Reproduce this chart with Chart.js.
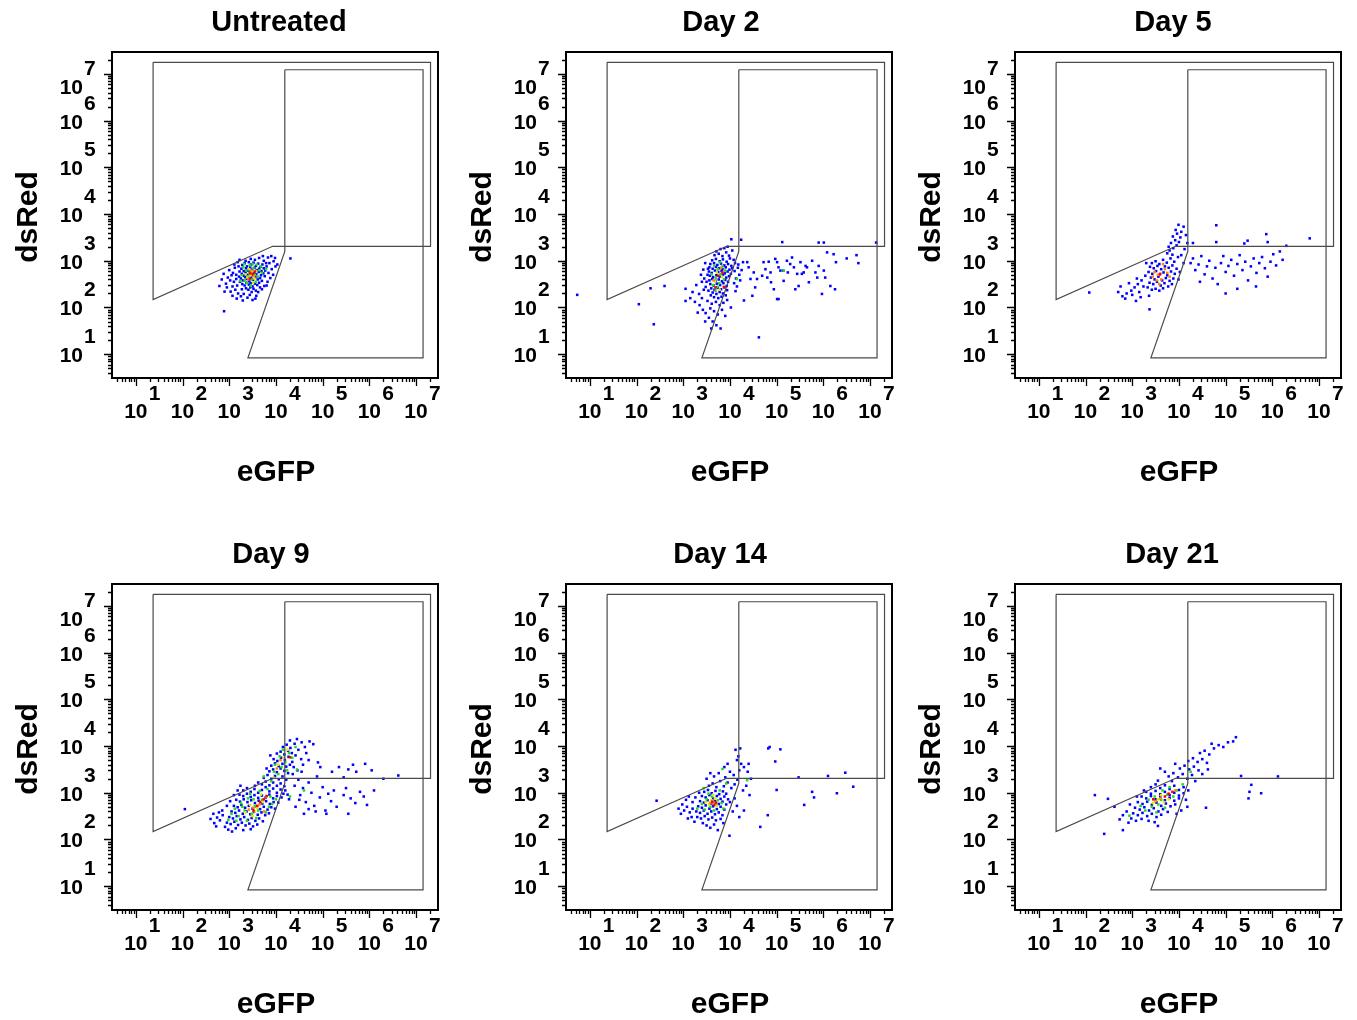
<!DOCTYPE html>
<html>
<head>
<meta charset="utf-8">
<title>eGFP / dsRed time course</title>
<script src="https://cdn.jsdelivr.net/npm/chart.js@4.4.1/dist/chart.umd.min.js"></script>
<style>
  html, body { margin: 0; padding: 0; background: #fff; overflow: hidden; }
  #grid { position: relative; width: 1357px; height: 1020px; }
  #grid canvas { position: absolute; }
</style>
</head>
<body>
<div id="grid"></div>
<script>
// events are stored as [log10 eGFP, log10 dsRed]
const panelTitles = ['Untreated', 'Day 2', 'Day 5', 'Day 9', 'Day 14', 'Day 21'];
const xTitle = 'eGFP';
const yTitle = 'dsRed';
const decadeExponents = [1, 2, 3, 4, 5, 6, 7];
const axisMinLog = 0.49;
const axisMaxLog = 7.47;

// gate outlines
const dsRedGate = [[1.37,7.25],[7.31,7.25],[7.31,3.31],[3.93,3.31],[1.37,2.17],[1.37,7.25]];
const egfpGate = [[4.19,7.09],[7.15,7.09],[7.15,0.92],[3.40,0.92],[4.19,3.20],[4.19,7.09]];

// ---- Untreated ----
const untreatedBlue = [
  [3.28,2.91],[3.33,2.95],[3.38,2.88],[3.42,2.97],[3.47,2.92],[3.52,2.96],[3.57,2.89],[3.62,2.94],[3.67,2.87],[3.71,2.92],
  [3.26,2.83],[3.31,2.78],[3.36,2.84],[3.40,2.79],[3.45,2.86],[3.49,2.81],[3.54,2.85],[3.59,2.80],[3.64,2.83],[3.69,2.78],[3.74,2.84],
  [3.27,2.72],[3.32,2.68],[3.35,2.75],[3.39,2.70],[3.44,2.77],[3.48,2.69],[3.53,2.74],[3.58,2.71],[3.63,2.76],[3.68,2.69],[3.73,2.73],
  [3.25,2.62],[3.30,2.58],[3.34,2.65],[3.38,2.61],[3.43,2.56],[3.47,2.63],[3.51,2.59],[3.56,2.65],[3.61,2.60],[3.66,2.63],[3.70,2.57],
  [3.28,2.50],[3.33,2.47],[3.37,2.53],[3.42,2.49],[3.46,2.52],[3.50,2.45],[3.55,2.51],[3.60,2.48],[3.64,2.53],
  [3.36,2.41],[3.41,2.38],[3.45,2.43],[3.52,2.40],[3.57,2.36],[3.48,2.33],
  [3.22,2.77],[3.21,2.66],[3.77,2.79],[3.76,2.67],[3.80,2.88],[3.79,2.95],[3.35,3.00],[3.55,3.02],[3.46,3.04],
  [3.12,2.85],[3.08,2.74],[3.15,2.61],[3.10,2.55],[3.05,2.69],[3.17,2.47],[3.13,2.38],[3.02,2.58],[2.97,2.64],[2.93,2.51],
  [2.88,2.72],[2.84,2.60],[2.95,2.43],[3.03,2.34],[3.19,2.30],[3.25,2.24],[3.31,2.29],[3.39,2.21],[3.44,2.27],[3.50,2.16],
  [3.58,2.25],[3.62,2.33],[3.29,2.15],[3.16,2.19],[3.07,2.45],[3.84,2.74],[3.88,2.63],[3.91,2.82],[3.86,2.95],[3.95,2.99],
  [3.98,3.06],[3.83,3.07],[3.72,3.10],[3.64,3.06],[3.90,3.10],[3.99,2.88],[3.82,2.55],[3.75,2.46],[3.70,2.39],[3.80,2.47],
  [3.18,2.97],[3.22,3.02],[3.11,2.92],[3.27,2.39],[3.66,2.43],[3.94,2.70],[4.03,2.92],[3.00,2.80],[2.90,2.34],[3.56,2.19],
  [3.23,2.55],[3.74,3.00],[3.15,2.70],[3.20,2.88],[2.89,1.92],[4.31,3.05],[2.79,2.46],[3.07,2.25]
];
const untreatedGreen = [
  [3.30,2.86],[3.36,2.79],[3.44,2.90],[3.52,2.84],[3.59,2.92],[3.65,2.80],[3.41,2.67],[3.48,2.60],[3.55,2.70],[3.33,2.58],
  [3.62,2.66],[3.38,2.52],[3.46,2.46],[3.57,2.55],[3.27,2.69],[3.70,2.74],[3.50,2.93],[3.43,2.74],[3.32,2.93],[3.68,2.88],
  [3.24,2.57],[3.79,2.82]
];
const untreatedYellow = [[3.42,2.82],[3.49,2.77],[3.54,2.62],[3.39,2.64],[3.58,2.78],[3.46,2.70],[3.35,2.71],[3.51,2.53]];
const untreatedOrange = [[3.47,2.79],[3.53,2.68],[3.41,2.60]];
const untreatedRed = [[3.45,2.73],[3.50,2.72],[3.44,2.62],[3.55,2.77]];

// ---- Day 2 ----
const day2Blue = [
  [3.62,3.01],[3.70,3.04],[3.78,2.99],[3.85,3.03],[3.93,2.98],[4.00,3.05],
  [3.58,2.93],[3.66,2.95],[3.73,2.91],[3.81,2.94],[3.88,2.90],[3.96,2.93],[4.03,2.89],
  [3.56,2.86],[3.63,2.83],[3.70,2.87],[3.77,2.84],[3.84,2.82],[3.91,2.86],[3.99,2.81],[4.05,2.84],
  [3.55,2.77],[3.61,2.74],[3.68,2.79],[3.75,2.76],[3.82,2.78],[3.89,2.73],[3.95,2.77],[4.02,2.72],
  [3.57,2.68],[3.64,2.65],[3.71,2.69],[3.78,2.66],[3.85,2.70],[3.92,2.64],[3.98,2.67],
  [3.56,2.58],[3.62,2.61],[3.69,2.57],[3.76,2.60],[3.83,2.56],[3.90,2.59],[3.96,2.55],
  [3.58,2.50],[3.65,2.47],[3.72,2.51],[3.79,2.48],[3.86,2.52],[3.93,2.46],
  [3.60,2.41],[3.67,2.38],[3.74,2.42],[3.81,2.39],[3.88,2.43],[3.94,2.37],
  [3.63,2.32],[3.71,2.29],[3.78,2.33],[3.85,2.30],[3.91,2.26],
  [3.52,2.70],[3.50,2.55],[3.53,2.83],[3.48,2.44],[3.54,2.36],[3.66,2.22],[3.75,2.20],[3.82,2.23],[3.59,2.26],
  [3.67,3.12],[3.76,3.15],[3.84,3.10],[3.92,3.18],[3.98,3.11],[4.05,3.22],[3.88,3.27],[3.95,3.30],[4.08,3.02],[4.11,2.95],
  [4.03,3.46],[4.24,3.45],[3.71,3.20],[3.80,3.25],
  [3.40,2.20],[3.52,2.14],[3.61,2.08],[3.70,2.12],[3.78,2.05],[3.86,2.10],[3.94,2.16],[3.58,1.98],[3.66,1.92],[3.74,1.85],
  [3.83,1.95],[3.48,1.88],[3.55,1.78],[3.63,1.70],[3.71,1.62],[3.90,1.82],[3.47,1.70],[3.80,1.55],[3.60,1.55],[3.42,1.95],
  [3.35,2.05],[4.02,2.00],[3.05,2.14],[3.31,1.89],
  [3.05,2.40],[3.20,2.33],[3.28,2.48],[3.34,2.29],[3.40,2.55],[3.44,2.38],[3.15,2.20],[3.25,2.12],[3.45,2.62],[3.38,2.70],
  [3.47,2.95],[3.43,2.81],
  [4.10,2.78],[4.13,2.62],[4.17,2.85],[4.20,2.70],[4.09,2.52],[4.15,2.45],[4.22,2.58],[4.25,2.80],[4.12,2.35],[4.18,2.92],
  [0.73,2.27],[2.05,2.07],[2.30,2.41],[2.60,2.46],[2.37,1.64],
  [4.28,2.97],[4.40,2.86],[4.44,2.61],[4.51,2.75],[4.54,2.43],[4.69,2.68],[4.72,2.97],[4.83,2.98],[4.87,2.75],[4.88,2.54],
  [4.94,2.39],[4.97,3.04],[5.01,2.18],[5.04,2.86],[5.08,2.79],[5.15,2.57],[5.14,2.79],[5.22,3.00],[5.24,2.75],[5.33,3.07],
  [5.37,2.86],[5.44,2.72],[5.47,2.46],[5.51,2.97],[5.58,2.75],[5.65,2.86],[5.69,2.54],[5.76,3.00],[5.83,2.75],[5.87,2.64],
  [5.90,2.89],[5.97,2.29],[6.01,2.79],[6.04,2.64],[6.08,3.18],[6.15,2.46],[6.22,3.14],[6.25,2.39],[6.27,2.97],[6.50,3.05],
  [6.71,3.12],[6.75,2.95],[5.90,3.39],[6.01,3.39],[5.12,3.40],[7.13,3.39],[5.04,2.18],[4.62,1.36],[4.30,2.15],[4.48,2.25],
  [4.76,2.82],[4.58,2.61],[5.29,2.93],[5.40,2.39],[5.54,2.72],[5.01,2.97],[4.80,2.64],[4.37,2.97],[5.62,2.89]
];
const day2Green = [
  [3.66,2.90],[3.74,2.82],[3.80,2.71],[3.70,2.63],[3.87,2.60],[3.77,2.52],[3.64,2.48],[3.84,2.88],[3.69,2.36],[3.90,2.79],
  [3.61,2.71],[3.79,2.97],[3.73,2.44],[5.15,2.79],[4.15,2.61]
];
const day2Yellow = [[3.72,2.75],[3.83,2.66],[3.68,2.56],[3.78,2.38]];
const day2Orange = [[3.81,2.85],[3.65,2.58]];
const day2Red = [[3.84,2.75],[3.69,2.43],[3.87,2.44],[3.75,2.68]];

// ---- Day 5 ----
const day5Blue = [
  [3.42,2.95],[3.50,2.99],[3.58,2.93],[3.66,3.02],[3.74,2.96],[3.82,3.05],[3.90,2.98],
  [3.38,2.87],[3.46,2.84],[3.54,2.89],[3.62,2.82],[3.70,2.88],[3.78,2.85],[3.86,2.90],[3.95,2.83],
  [3.35,2.76],[3.43,2.72],[3.51,2.78],[3.59,2.71],[3.67,2.75],[3.75,2.69],[3.83,2.77],[3.91,2.72],
  [3.40,2.64],[3.48,2.60],[3.56,2.66],[3.64,2.58],[3.72,2.63],[3.80,2.57],[3.88,2.62],
  [3.37,2.53],[3.45,2.50],[3.53,2.55],[3.61,2.47],[3.69,2.52],[3.77,2.45],[3.85,2.50],
  [3.33,2.43],[3.50,2.40],[3.58,2.36],[3.66,2.41],[3.42,2.38],
  [3.98,3.08],[4.05,3.12],[3.86,3.13],[3.75,3.16],[4.10,2.95],[4.02,2.76],[3.99,2.60],[3.30,2.95],[3.28,2.68],
  [3.80,3.22],[3.88,3.27],[3.95,3.33],[3.83,3.38],[3.92,3.44],[4.00,3.40],[3.87,3.52],[3.96,3.58],[4.03,3.50],[3.93,3.66],
  [4.05,3.62],[4.10,3.73],[3.99,3.77],[4.15,3.55],[4.18,3.38],[3.78,3.30],[4.12,3.25],
  [3.20,2.58],[3.12,2.50],[3.05,2.43],[2.98,2.36],[2.88,2.30],[2.79,2.24],[2.70,2.33],[2.75,2.45],[2.85,2.19],[3.00,2.27],
  [3.15,2.33],[3.24,2.45],[3.10,2.62],[2.93,2.52],[3.18,2.22],[3.36,2.25],[3.08,2.14],[2.08,2.32],[3.37,1.96],
  [4.25,2.95],[4.30,3.05],[4.35,2.80],[4.42,2.92],[4.48,3.10],[4.55,2.71],[4.60,2.88],[4.65,3.00],[4.72,2.62],[4.78,2.85],
  [4.83,2.50],[4.90,2.95],[4.95,3.10],[5.00,2.76],[5.06,2.89],[5.12,3.02],[5.18,2.68],[5.25,2.93],[5.30,3.12],[5.36,2.80],
  [5.42,2.98],[5.48,2.58],[5.54,2.88],[5.60,3.05],[5.66,2.74],[5.72,2.95],[5.78,3.08],[5.84,2.84],[5.90,2.66],[5.96,2.98],
  [6.02,3.14],[6.08,2.90],[6.16,3.20],[6.22,3.02],[5.25,2.40],[5.65,2.45],[5.00,2.30],[4.45,2.55],[4.80,3.40],[5.40,3.37],
  [5.90,3.40],[6.30,3.32],[4.80,3.76],[6.80,3.48],[5.87,3.57],[5.47,3.43],[4.30,3.38]
];
const day5Green = [];
const day5Yellow = [];
const day5Orange = [
  [3.55,2.70],[3.62,2.60],[3.48,2.76],[3.70,2.82],[3.58,2.50],[3.66,2.93],[3.75,2.74],[3.52,2.58],[3.44,2.66],[3.80,2.66]
];
const day5Red = [[3.60,2.72]];

// ---- Day 9 ----
const day9Blue = [
  [3.30,3.05],[3.38,3.10],[3.46,3.02],[3.54,3.08],[3.62,3.00],[3.70,3.06],[3.78,3.12],[3.86,3.03],[3.94,3.09],[4.02,3.00],[4.10,3.07],
  [3.22,2.96],[3.30,2.93],[3.38,2.98],[3.46,2.91],[3.54,2.95],[3.62,2.89],[3.70,2.94],[3.78,2.90],[3.86,2.96],[3.94,2.88],[4.02,2.93],[4.12,2.90],
  [3.15,2.85],[3.23,2.81],[3.31,2.86],[3.39,2.80],[3.47,2.84],[3.55,2.78],[3.63,2.83],[3.71,2.77],[3.79,2.82],[3.87,2.76],[3.95,2.80],[4.05,2.79],
  [3.10,2.72],[3.18,2.69],[3.26,2.74],[3.34,2.68],[3.42,2.72],[3.50,2.66],[3.58,2.71],[3.66,2.65],[3.74,2.70],[3.82,2.64],[3.90,2.69],[3.98,2.66],
  [3.05,2.60],[3.13,2.57],[3.21,2.62],[3.29,2.55],[3.37,2.60],[3.45,2.54],[3.53,2.59],[3.61,2.53],[3.69,2.58],[3.77,2.52],[3.85,2.56],
  [3.00,2.48],[3.08,2.45],[3.16,2.50],[3.24,2.43],[3.32,2.48],[3.40,2.42],[3.48,2.46],[3.56,2.40],[3.64,2.45],[3.72,2.39],
  [2.95,2.36],[3.03,2.33],[3.11,2.38],[3.19,2.31],[3.27,2.36],[3.35,2.30],[3.43,2.34],[3.51,2.28],[3.60,2.32],
  [2.86,2.52],[2.80,2.41],[2.74,2.47],[2.68,2.35],[2.91,2.27],[2.98,2.21],[3.14,2.24],[2.85,2.62],[2.78,2.58],[2.66,2.55],
  [3.06,2.17],[3.30,2.20],[3.46,2.22],[2.72,2.28],[2.60,2.44],[2.05,2.65],[2.95,2.72],[3.02,2.82],[3.10,2.95],[3.18,3.05],[3.24,3.15],
  [3.70,3.18],[3.78,3.24],[3.86,3.16],[3.94,3.22],[4.02,3.15],[4.10,3.20],[4.18,3.14],[3.74,3.32],[3.82,3.38],[3.90,3.30],
  [3.98,3.36],[4.06,3.29],[4.14,3.35],[4.22,3.28],[3.62,3.22],[3.55,3.15],[4.20,3.05],[4.25,2.96],[4.28,2.86],[4.16,2.98],
  [3.86,3.46],[3.94,3.50],[4.02,3.44],[4.10,3.52],[4.18,3.47],[4.26,3.42],[3.90,3.58],[3.98,3.63],[4.06,3.57],[4.14,3.62],
  [4.22,3.56],[4.30,3.60],[3.95,3.72],[4.03,3.68],[4.11,3.75],[4.19,3.70],[4.27,3.77],[4.35,3.66],[4.02,3.84],[4.10,3.88],
  [4.18,3.82],[4.26,3.90],[4.34,3.85],[4.42,3.80],[4.15,3.98],[4.23,4.03],[4.31,3.96],[4.40,4.05],[4.48,3.92],[4.30,4.12],
  [4.45,4.15],[4.55,4.08],[4.62,3.98],[4.38,3.55],[4.46,3.48],[4.54,3.72],[4.58,3.60],[4.65,3.85],[4.36,3.40],[3.80,3.52],
  [3.88,3.80],[4.72,4.10],[4.80,4.04],[4.70,3.70],
  [4.40,3.15],[4.48,3.28],[4.52,2.95],[4.58,3.10],[4.64,2.80],[4.70,3.22],[4.76,3.00],[4.82,2.72],[4.88,3.35],[4.94,2.90],
  [5.00,3.12],[5.06,2.62],[5.12,2.98],[5.18,2.82],[5.24,3.05],[5.30,2.70],[5.08,2.55],[4.85,2.60],[4.60,2.55],[4.42,2.70],
  [4.50,2.85],[5.45,3.33],[5.45,2.95],[5.55,3.50],[5.60,2.88],[5.70,2.78],[5.80,3.02],[5.88,2.92],[5.95,2.74],[5.50,3.10],
  [5.72,3.45],[5.91,3.62],[6.05,3.48],[6.10,3.05],[6.30,3.30],[6.62,3.37],[5.20,3.45],[5.35,3.55],[4.95,3.55],[5.55,2.55],
  [4.70,2.65],[4.55,3.45],[4.90,3.65],[5.65,3.60]
];
const day9Green = [
  [3.25,2.78],[3.40,2.88],[3.55,2.72],[3.70,2.85],[3.85,2.70],[3.33,2.62],[3.48,2.55],[3.62,2.62],[3.78,2.58],[3.20,2.50],
  [3.38,2.40],[3.58,2.46],[3.92,2.76],[4.00,2.86],[3.45,2.98],[3.65,3.04],[3.82,3.08],[3.05,2.55],[2.98,2.42],[3.12,2.66],
  [3.90,3.25],[4.05,3.40],[4.12,3.55],[3.96,3.45],[4.20,3.66],[4.08,3.78],[4.28,3.85],[4.15,3.92],[4.35,3.75],[3.98,3.60],
  [4.24,3.48],[4.42,3.98],[3.74,3.35],[4.45,3.50],[4.60,3.05],[4.30,2.92],[3.88,2.92],[3.52,2.86],[3.28,2.70],[3.15,2.40]
];
const day9Yellow = [
  [3.45,2.74],[3.60,2.68],[3.72,2.80],[3.35,2.58],[3.55,2.60],[3.80,2.92],[4.05,3.60],[4.18,3.75],[3.95,3.32],[3.50,2.50],
  [3.68,2.96],[4.25,3.92]
];
const day9Orange = [[3.52,2.68],[3.65,2.75],[3.42,2.64],[4.10,3.70],[4.02,3.52],[3.75,2.60]];
const day9Red = [[3.66,2.80],[3.74,2.86],[3.60,2.72],[3.80,2.93],[4.30,3.76],[3.52,2.62]];

// ---- Day 14 ----
const day14Blue = [
  [3.45,3.02],[3.53,3.06],[3.61,2.99],[3.69,3.04],[3.77,2.97],[3.85,3.03],[3.92,2.98],
  [3.40,2.93],[3.48,2.90],[3.56,2.95],[3.64,2.88],[3.72,2.93],[3.80,2.87],[3.88,2.92],[3.96,2.86],
  [3.36,2.82],[3.44,2.79],[3.52,2.84],[3.60,2.77],[3.68,2.82],[3.76,2.76],[3.84,2.81],[3.92,2.75],[4.00,2.80],
  [3.32,2.71],[3.40,2.68],[3.48,2.73],[3.56,2.66],[3.64,2.71],[3.72,2.65],[3.80,2.70],[3.88,2.64],
  [3.28,2.60],[3.36,2.57],[3.44,2.62],[3.52,2.55],[3.60,2.60],[3.68,2.54],[3.76,2.58],[3.84,2.52],
  [3.30,2.48],[3.38,2.45],[3.46,2.50],[3.54,2.43],[3.62,2.47],[3.70,2.41],[3.80,2.44],
  [3.20,2.66],[3.14,2.58],[3.08,2.70],[3.02,2.62],[2.95,2.55],[2.90,2.66],[3.18,2.48],[3.10,2.45],[3.24,2.38],
  [3.42,2.35],[3.50,2.30],[3.58,2.25],[3.66,2.32],[3.74,2.20],[3.86,2.35],[2.98,2.75],[3.06,2.85],[3.26,2.90],[3.34,3.00],
  [3.20,2.80],[3.12,2.92],
  [3.55,3.15],[3.63,3.20],[3.71,3.12],[3.79,3.25],[3.87,3.14],[3.95,3.22],[4.03,3.10],[4.10,3.18],[3.66,3.35],[3.76,3.42],
  [3.90,3.33],[4.00,3.45],[4.08,3.38],[4.16,3.28],[4.20,3.48],[4.24,3.62],[4.18,3.78],[4.12,3.92],[4.22,3.95],[4.15,3.70],
  [4.30,3.55],[4.38,3.45],[4.45,3.30],[4.40,3.62],[3.88,3.55],[3.95,3.62],[3.58,3.42],[3.50,3.30],[4.35,3.15],[4.28,3.05],
  [4.42,2.95],[4.30,2.62],[4.20,2.48],[4.06,2.60],[4.10,2.88],[4.15,2.72],
  [2.43,2.83],[4.82,3.95],[5.08,3.93],[4.97,3.67],[5.47,3.33],[6.10,3.36],[6.47,3.43],[6.64,3.13],[5.76,3.02],[5.80,2.90],
  [6.29,2.99],[5.00,3.06],[5.59,2.74],[4.81,2.52],[4.65,2.27],[3.99,2.08],[4.85,3.98]
];
const day14Green = [
  [3.50,2.86],[3.62,2.92],[3.74,2.84],[3.58,2.70],[3.70,2.75],[3.46,2.64],[3.82,2.78],[3.40,2.76],[3.66,2.62],[3.54,2.98],
  [3.30,2.66],[3.78,3.05],[3.92,3.20],[3.44,3.10],[3.86,2.66],[3.84,3.51],[4.37,3.27]
];
const day14Yellow = [[3.60,2.84],[3.68,2.88],[3.55,2.75],[3.72,2.72],[3.64,2.96],[3.48,2.80]];
const day14Orange = [[3.65,2.80],[3.58,2.78]];
const day14Red = [[3.62,2.81],[3.70,2.79],[3.66,2.74]];

// ---- Day 21 ----
const day21Blue = [
  [3.40,3.12],[3.50,3.18],[3.60,3.10],[3.70,3.16],[3.80,3.08],[3.90,3.15],[4.00,3.06],[4.10,3.12],
  [3.30,3.02],[3.40,2.98],[3.50,3.04],[3.60,2.97],[3.70,3.02],[3.80,2.95],[3.90,3.00],[4.00,2.94],[4.10,2.99],[4.20,3.05],
  [3.20,2.92],[3.30,2.88],[3.40,2.93],[3.50,2.86],[3.60,2.91],[3.70,2.84],[3.80,2.89],[3.90,2.83],[4.00,2.88],
  [3.12,2.80],[3.22,2.76],[3.32,2.81],[3.42,2.74],[3.52,2.79],[3.62,2.72],[3.72,2.77],[3.82,2.71],[3.92,2.75],
  [3.06,2.68],[3.16,2.64],[3.26,2.69],[3.36,2.62],[3.46,2.67],[3.56,2.60],[3.66,2.65],[3.76,2.59],
  [3.02,2.56],[3.12,2.52],[3.22,2.57],[3.32,2.50],[3.42,2.55],[3.52,2.48],[3.62,2.53],
  [2.95,2.75],[2.98,2.45],[3.08,2.40],[3.20,2.44],[3.35,2.40],[3.48,2.37],[2.88,2.60],[2.80,2.52],[2.73,2.43],[2.92,2.36],
  [3.10,2.92],[3.25,3.05],[3.55,3.26],[3.85,3.25],[4.15,2.85],[4.18,2.70],[4.05,2.62],[3.95,2.55],
  [3.78,3.35],[3.88,3.42],[3.98,3.33],[4.08,3.40],[4.18,3.30],[4.28,3.38],[4.02,3.52],[4.12,3.58],[4.22,3.50],[4.32,3.56],
  [4.42,3.48],[4.20,3.68],[4.30,3.74],[4.40,3.66],[4.50,3.72],[4.60,3.64],[4.45,3.85],[4.55,3.90],[4.65,3.82],[4.75,3.95],
  [4.85,4.02],[4.95,3.98],[5.05,4.08],[5.16,4.10],[5.22,4.19],[4.70,4.05],[3.70,3.45],[4.35,3.25],[4.50,3.40],[4.62,3.50],
  [3.60,3.52],[3.92,3.62],
  [2.48,2.87],[2.40,2.12],[2.80,2.20],[3.55,2.29],[4.58,2.68],[5.55,3.17],[5.51,3.02],[5.49,2.88],[5.76,2.99],[6.12,3.35],
  [5.33,3.36],[2.20,2.95],[2.62,2.70]
];
const day21Green = [
  [3.35,2.85],[3.48,2.92],[3.62,2.85],[3.75,2.96],[3.88,2.92],[3.42,2.70],[3.56,2.75],[3.70,2.68],[3.28,2.62],[3.52,2.58],
  [3.95,3.05],[3.80,3.12],[3.18,2.72],[4.08,3.18],[4.25,3.45],[2.94,2.51],[3.65,3.05]
];
const day21Yellow = [[3.55,2.86],[3.68,2.80],[3.45,2.78],[3.62,2.95],[3.78,2.86]];
const day21Orange = [[3.92,3.05],[3.60,2.88],[3.50,2.82]];
const day21Red = [[3.78,2.98],[3.86,3.02],[3.70,2.92],[3.45,2.86]];

const panelEvents = [
  [untreatedBlue, untreatedGreen, untreatedYellow, untreatedOrange, untreatedRed],
  [day2Blue, day2Green, day2Yellow, day2Orange, day2Red],
  [day5Blue, day5Green, day5Yellow, day5Orange, day5Red],
  [day9Blue, day9Green, day9Yellow, day9Orange, day9Red],
  [day14Blue, day14Green, day14Yellow, day14Orange, day14Red],
  [day21Blue, day21Green, day21Yellow, day21Orange, day21Red]
];

// ---- layout / style ----
const densityColours = ['#0000ff', '#22dd22', '#e6e600', '#ff8800', '#ff0000'];
const colLeft = [0, 454, 903];
const rowTop = [0, 532];
const canvasW = 454, canvasH = 488;
const titleCentre = [279, 267, 270, 271, 266, 269];
const labelFont = '"Liberation Sans", Arial, Helvetica, sans-serif';

const toPoints = pairs => pairs.map(([lx, ly]) => ({ x: 10 ** lx, y: 10 ** ly }));

// frame, log ticks, decade labels and titles
const flowAxes = {
  id: 'flowAxes',
  afterDraw(chart, args, opts) {
    const { ctx, chartArea: a } = chart;
    const sx = chart.scales.x, sy = chart.scales.y;
    ctx.save();
    ctx.strokeStyle = '#000';
    ctx.lineWidth = 1.3;
    ctx.beginPath();
    for (let d = 0; d <= 7; d++) {
      for (let k = 1; k <= 9; k++) {
        const lv = d + Math.log10(k);
        if (lv < axisMinLog || lv > axisMaxLog) continue;
        const len = k === 1 ? 8 : 4;
        const px = Math.round(sx.getPixelForValue(k * 10 ** d)) + 0.5;
        const py = Math.round(sy.getPixelForValue(k * 10 ** d)) + 0.5;
        ctx.moveTo(px, a.bottom); ctx.lineTo(px, a.bottom + len);
        ctx.moveTo(a.left, py); ctx.lineTo(a.left - len, py);
      }
    }
    ctx.stroke();

    ctx.lineWidth = 2;
    ctx.strokeRect(a.left, a.top, a.right - a.left, a.bottom - a.top);

    ctx.fillStyle = '#000';
    ctx.font = 'bold 21px ' + labelFont;
    ctx.textBaseline = 'alphabetic';
    decadeExponents.forEach((e, i) => {
      const px = sx.getPixelForValue(10 ** e);
      ctx.textAlign = 'center';
      ctx.fillText('10', px, a.bottom + 40);
      ctx.textAlign = 'left';
      ctx.fillText(String(e), px + 13, a.bottom + 22);

      // the top label is pushed down to stay inside the panel
      const drop = i === decadeExponents.length - 1 ? 12 : 0;
      const py = sy.getPixelForValue(10 ** e) + drop;
      ctx.textAlign = 'right';
      ctx.fillText('10', a.left - 29, py + 8);
      ctx.textAlign = 'left';
      ctx.fillText(String(e), a.left - 28, py - 11);
    });

    ctx.textAlign = 'center';
    ctx.font = 'bold 29px ' + labelFont;
    ctx.fillText(opts.title, opts.titleX, 31);
    ctx.font = 'bold 30px ' + labelFont;
    ctx.fillText(xTitle, (a.left + a.right) / 2 + 1, 481);
    ctx.translate(37, (a.top + a.bottom) / 2 + 2);
    ctx.rotate(-Math.PI / 2);
    ctx.fillText(yTitle, 0, 0);
    ctx.restore();
  }
};

const grid = document.getElementById('grid');

panelTitles.forEach((title, i) => {
  const canvas = document.createElement('canvas');
  canvas.width = canvasW;
  canvas.height = canvasH;
  canvas.style.left = colLeft[i % 3] + 'px';
  canvas.style.top = rowTop[Math.floor(i / 3)] + 'px';
  grid.appendChild(canvas);

  const gateStyle = {
    showLine: true, fill: false, tension: 0, pointRadius: 0,
    borderColor: '#4a4a4a', borderWidth: 1.2, order: 0
  };
  const datasets = [
    { data: toPoints(dsRedGate), ...gateStyle },
    { data: toPoints(egfpGate), ...gateStyle }
  ];
  // low density first, hottest colour on top
  panelEvents[i].forEach((events, level) => {
    datasets.push({
      data: toPoints(events),
      pointStyle: 'rect',
      pointRadius: 1.8,
      pointBorderWidth: 0,
      backgroundColor: densityColours[level],
      borderColor: densityColours[level],
      order: 5 - level
    });
  });

  new Chart(canvas, {
    type: 'scatter',
    data: { datasets },
    options: {
      responsive: false,
      animation: false,
      devicePixelRatio: 1,
      events: [],
      layout: { padding: { left: 112, top: 52, right: 16, bottom: 110 } },
      scales: {
        x: { type: 'logarithmic', display: false, min: 10 ** axisMinLog, max: 10 ** axisMaxLog },
        y: { type: 'logarithmic', display: false, min: 10 ** axisMinLog, max: 10 ** axisMaxLog }
      },
      plugins: {
        legend: { display: false },
        tooltip: { enabled: false },
        flowAxes: { title, titleX: titleCentre[i] }
      }
    },
    plugins: [flowAxes]
  });
});
</script>
</body>
</html>
